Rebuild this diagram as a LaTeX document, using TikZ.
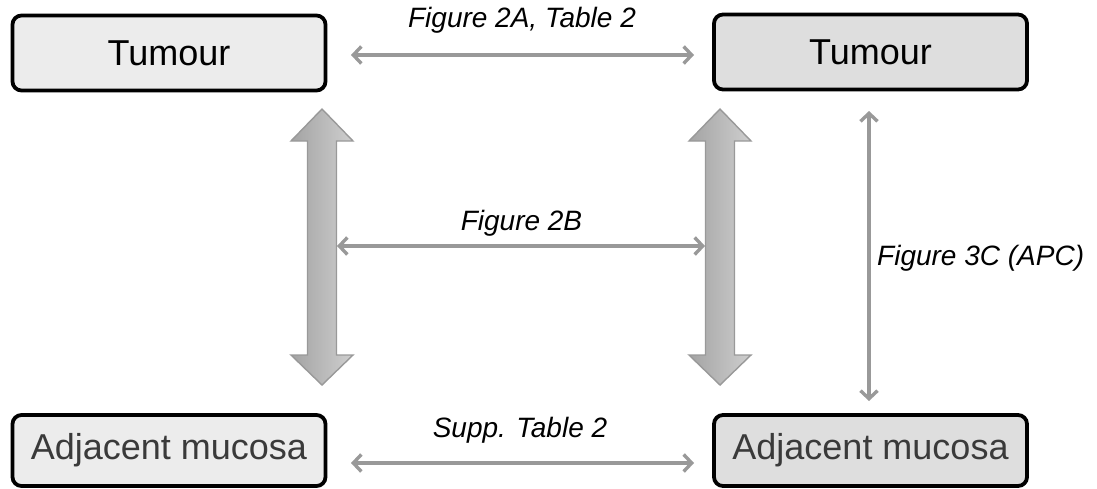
\documentclass[tikz,border=0pt]{standalone}
\usepackage{fontspec}
\setmainfont{Liberation Sans}
\usetikzlibrary{arrows.meta}
\definecolor{boxlight}{HTML}{ECECEC}
\definecolor{boxdark}{HTML}{DEDEDE}
\definecolor{linkgray}{HTML}{999999}
\definecolor{mucosatext}{HTML}{3A3A3A}
\tikzset{
  tissue/.style={draw=black, line width=3.8pt, rounded corners=9pt, minimum width=313pt, inner sep=0pt,
                 font=\fontsize{36}{40}\selectfont},
  link/.style={draw=linkgray, line width=3.4pt, {Straight Barb[length=8pt,width=17pt]}-{Straight Barb[length=8pt,width=17pt]}},
  cite/.style={font=\fontsize{28}{32}\selectfont\itshape, inner sep=0pt},
  fat/.style={left color=black!36, right color=black!19, draw=black!40, line width=1.4pt, line join=miter}
}
\begin{document}
\begin{tikzpicture}[x=1pt,y=-1pt]
\useasboundingbox (0,0) rectangle (1097,488);

% tissue boxes
\node[tissue, fill=boxlight, minimum height=75pt] (tl) at (169,53) {Tumour};
\node[tissue, fill=boxdark,  minimum height=75pt] (tr) at (870.5,52) {Tumour};
\node[tissue, fill=boxlight, minimum height=71pt, text=mucosatext] (bl) at (169,450.5) {Adjacent mucosa};
\node[tissue, fill=boxdark,  minimum height=71pt, text=mucosatext] (br) at (870.5,450.5) {Adjacent mucosa};

% wide double arrows between tumour and mucosa
\shade[fat] (322,109) -- (353,141) -- (336.5,141) -- (336.5,355) -- (353,355) -- (322,385)
  -- (291,355) -- (307.5,355) -- (307.5,141) -- (291,141) -- cycle;
\shade[fat] (720,109) -- (751,141) -- (734.5,141) -- (734.5,355) -- (751,355) -- (720,385)
  -- (689,355) -- (705.5,355) -- (705.5,141) -- (689,141) -- cycle;
\coordinate (lfat) at (337,246);
\coordinate (rfat) at (705,246);

% thin comparison arrows
\coordinate (topL) at (351,55);
\coordinate (topR) at (694,55);
\coordinate (botL) at (351,463);
\coordinate (botR) at (694,463);
\coordinate (vTop) at (869,111);
\coordinate (vBot) at (869,401);
\draw[link] (topL) -- (topR);
\draw[link] (lfat) -- (rfat);
\draw[link] (botL) -- (botR);
\draw[link] (vTop) -- (vBot);

% references
\node[cite] (c1) at (522,20) {Figure 2A, Table 2};
\node[cite] (c2) at (521.5,223) {Figure 2B};
\node[cite] (c3) at (520,430) {Supp. Table 2};
\node[cite, anchor=west] (c4) at (877,258) {Figure 3C (APC)};
\end{tikzpicture}
\end{document}
